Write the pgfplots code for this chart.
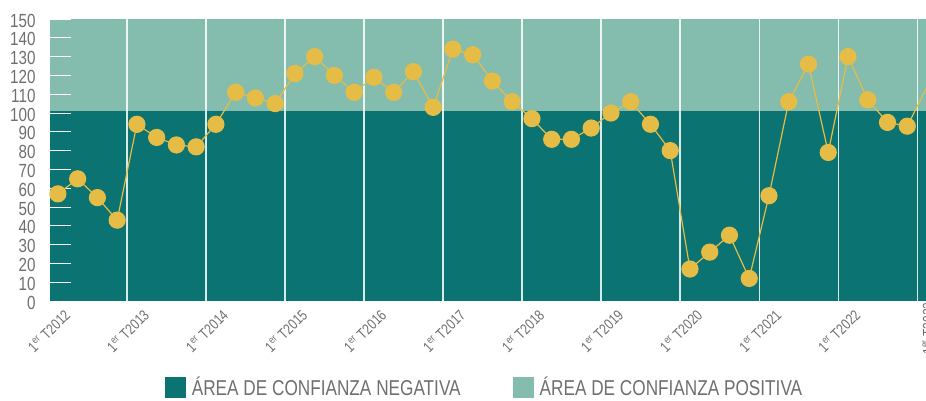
\documentclass[border=0pt]{standalone}
\usepackage{pgfplots}
\pgfplotsset{compat=1.18}
\usepackage{fontspec}
\setmainfont{Liberation Sans}[FakeStretch=0.8]
\definecolor{dteal}{HTML}{0B7371}
\definecolor{lteal}{HTML}{84BDAE}
\definecolor{ylw}{HTML}{E5BC46}
\definecolor{txt}{HTML}{6F6F6F}
\pgfplotstableread{
i v
0 57
1 65
2 55
3 43
4 94
5 87
6 83
7 82
8 94
9 111
10 108
11 105
12 121
13 130
14 120
15 111
16 119
17 111
18 122
19 103
20 134
21 131
22 117
23 106
24 97
25 86
26 86
27 92
28 100
29 106
30 94
31 80
32 17
33 26
34 35
35 12
36 56
37 106
38 126
39 79
40 130
41 107
42 95
43 93
44 114
}\datatable
\begin{document}
\begin{tikzpicture}[x=1pt,y=1pt]
\begin{axis}[
 at={(0,0)}, anchor=south west, scale only axis, width=876pt, height=282pt,
 set layers=standard,
 xmin=-0.4, xmax=43.95, ymin=0, ymax=150,
 axis line style={lteal, line width=1pt},
 y axis line style={draw=none},
 ytick={0,10,...,150},
 ytick pos=left,
 /pgf/number format/assume math mode=true,
 yticklabel style={font=\fontsize{19}{19}\selectfont, text=txt, xshift=-11pt, yshift=-1.5pt},
 major tick length=21pt,
 tick align=inside,
 ytick style={white, line width=1pt},
 xtick style={draw=none},
 minor tick length=0pt,
 xtick={0,4,...,40},
 xticklabels={1\textsuperscript{er} T2012,1\textsuperscript{er} T2013,1\textsuperscript{er} T2014,1\textsuperscript{er} T2015,1\textsuperscript{er} T2016,1\textsuperscript{er} T2017,1\textsuperscript{er} T2018,1\textsuperscript{er} T2019,1\textsuperscript{er} T2020,1\textsuperscript{er} T2021,1\textsuperscript{er} T2022},
 x tick label style={xshift=12pt, yshift=-9pt, rotate=45, anchor=east, font=\fontsize{15}{15}\selectfont, text=txt},
 extra x ticks={43.3},
 extra x tick labels={1\textsuperscript{er} T2023},
 extra x tick style={tick label style={rotate=45}},
 minor xtick={3.5,7.5,...,43.5},
 xminorgrids=true,
 minor grid style={white, opacity=0.85, line width=1.2pt},
 legend style={at={(rel axis cs:0.496,0)}, anchor=center, yshift=-86pt, draw=none, fill=none, legend columns=2, font=\fontsize{21.5}{21.5}\selectfont, text=txt, /tikz/every even column/.append style={column sep=50pt}, /tikz/every odd column/.append style={column sep=4pt}},
 legend image code/.code={\fill[#1] (0pt,-10.5pt) rectangle (21pt,10.5pt);},
]
\addplot[on layer=axis background, draw=none, fill=dteal, forget plot] coordinates {(-0.4,0) (43.95,0) (43.95,101) (-0.4,101)} -- cycle;
\addplot[on layer=axis background, draw=none, fill=lteal, forget plot] coordinates {(-0.4,101) (43.95,101) (43.95,150) (-0.4,150)} -- cycle;
\addlegendimage{fill=dteal, draw=none}
\addlegendentry{ÁREA DE CONFIANZA NEGATIVA}
\addlegendimage{fill=lteal, draw=none}
\addlegendentry{ÁREA DE CONFIANZA POSITIVA}
\addplot[ylw, line width=1.2pt, mark=*, mark size=8pt, mark options={fill=ylw, draw=none}, forget plot] table[x=i, y=v] {\datatable};
\end{axis}
\pgfresetboundingbox
\path[use as bounding box] (-50,-99) rectangle (876,301);
\end{tikzpicture}
\end{document}
